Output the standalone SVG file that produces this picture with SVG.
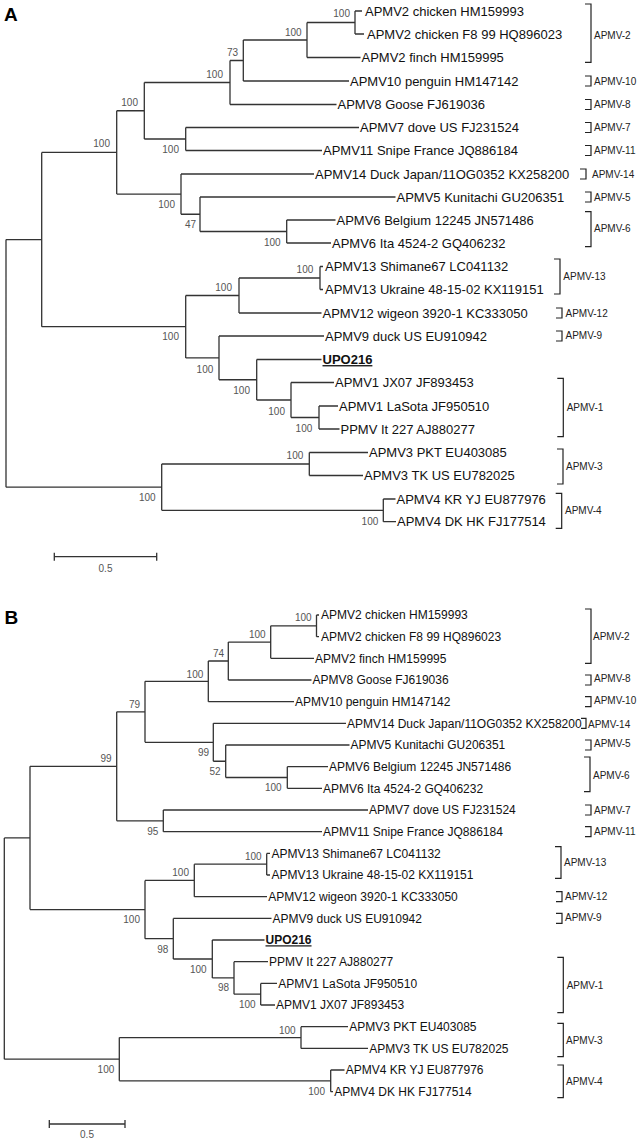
<svg xmlns="http://www.w3.org/2000/svg" width="639" height="1144" viewBox="0 0 639 1144">
<style>
.br{stroke:#333;stroke-width:1.3;fill:none}
.lf{font-family:"Liberation Sans",Arial,sans-serif;fill:#111}
.la{font-size:13px}
.lb{font-size:12px}
.up{font-weight:bold;text-decoration:underline}
.bs{font-family:"Liberation Sans",Arial,sans-serif;font-size:10px;fill:#555;text-anchor:end}
.st{font-family:"Liberation Sans",Arial,sans-serif;font-size:10px;fill:#222}
.bk{stroke:#222;stroke-width:1.2;fill:none}
.pl{font-family:"Liberation Sans",Arial,sans-serif;font-size:19px;font-weight:bold;fill:#000}
.sc{font-family:"Liberation Sans",Arial,sans-serif;font-size:10px;fill:#555;text-anchor:middle}
</style>
<rect width="639" height="1144" fill="#fff"/>
<text class="pl" x="4" y="20.5">A</text>
<text class="pl" x="4.5" y="624">B</text>

<g id="connectors">
<!-- Tree A -->
<path class="br" d="M6 239.55V487.2M6 239.55H41.7M6 487.2H161.7
M41.7 152.4V326.7M41.7 152.4H116.7M41.7 326.7H185.7
M116.7 110.75V194.1M116.7 110.75H144.3M116.7 194.1H181
M144.3 82.5V139M144.3 82.5H230M144.3 139H185.7
M230 60.5V104.5M230 60.5H243.3M230 104.5H336.5
M243.3 40V81M243.3 40H307M243.3 81H349
M307 22.5V57.5M307 22.5H355M307 57.5H360.5
M355 11V34M355 11H362M355 34H364
M185.7 127.5V150.5M185.7 127.5H359M185.7 150.5H322
M181 174V214.25M181 174H314M181 214.25H200
M200 197V231.5M200 197H395.5M200 231.5H286.7
M286.7 220V243M286.7 220H335.5M286.7 243H331
M185.7 295.5V357.9M185.7 295.5H239M185.7 357.9H219
M239 278V313M239 278H320M239 313H321.5
M320 266.5V289.5M320 266.5H323M320 289.5H323
M219 336V379.75M219 336H324M219 379.75H256.7
M256.7 359.5V400M256.7 359.5H321.5M256.7 400H291
M291 382.5V417.5M291 382.5H334M291 417.5H319
M319 406V429M319 406H338M319 429H339.5
M161.7 464V510.35M161.7 464H309.3M161.7 510.35H383.3
M309.3 452.5V475.5M309.3 452.5H368M309.3 475.5H363
M383.3 499V521.7M383.3 499H395.5M383.3 521.7H396"/>
<!-- Tree B -->
<path class="br" d="M4.3 837.95V1059.2M4.3 837.95H30M4.3 1059.2H119.3
M30 766.3V909.6M30 766.3H116.7M30 909.6H145
M116.7 711.8V820.85M116.7 711.8H145M116.7 820.85H163.3
M145 681.35V742.3M145 681.35H208.3M145 742.3H213.3
M208.3 661V701.7M208.3 661H228.3M208.3 701.7H294
M228.3 642.1V680M228.3 642.1H270.7M228.3 680H311.5
M270.7 625.85V658.3M270.7 625.85H316.5M270.7 658.3H314
M316.5 615V636.7M316.5 615H319M316.5 636.7H319
M213.3 723.3V761.25M213.3 723.3H346M213.3 761.25H225.7
M225.7 745V777.5M225.7 745H349.5M225.7 777.5H287.3
M287.3 766.7V788.3M287.3 766.7H328M287.3 788.3H322
M163.3 810V831.7M163.3 810H368M163.3 831.7H322
M145 880.45V938.7M145 880.45H194.3M145 938.7H173.3
M194.3 864.2V896.7M194.3 864.2H266.7M194.3 896.7H267
M266.7 853.4V875M266.7 853.4H270M266.7 875H270
M173.3 918.4V959M173.3 918.4H271.5M173.3 959H212.3
M212.3 940V977.95M212.3 940H264.5M212.3 977.95H234
M234 961.7V994.2M234 961.7H268M234 994.2H260.7
M260.7 983.4V1005M260.7 983.4H277M260.7 1005H275
M119.3 1037.55V1080.85M119.3 1037.55H301M119.3 1080.85H330.7
M301 1026.7V1048.4M301 1026.7H348M301 1048.4H368
M330.7 1070V1091.7M330.7 1070H344.5M330.7 1091.7H333"/>
</g>

<!-- Tree A bootstrap values -->
<g id="a-support" class="bs">
<text x="350" y="16.5">100</text>
<text x="301.7" y="35.8">100</text>
<text x="238" y="55.8">73</text>
<text x="223" y="77.5">100</text>
<text x="138" y="105.5">100</text>
<text x="110" y="146.8">100</text>
<text x="179" y="153.2">100</text>
<text x="175" y="207.8">100</text>
<text x="196" y="227.8">47</text>
<text x="280.7" y="245.8">100</text>
<text x="313.3" y="272.8">100</text>
<text x="232" y="290.8">100</text>
<text x="179" y="340.2">100</text>
<text x="213.3" y="372.5">100</text>
<text x="250" y="394.2">100</text>
<text x="285" y="414.5">100</text>
<text x="312.3" y="431.8">100</text>
<text x="303.3" y="459.2">100</text>
<text x="155.7" y="501.2">100</text>
<text x="378.3" y="525.2">100</text>
</g>

<!-- Tree A leaves -->
<g id="a-leaves" class="lf la">
<g id="a-l1"><text x="365" y="15.6">APMV2 chicken HM159993</text></g>
<g id="a-l2"><text x="367" y="38.6">APMV2 chicken F8 99 HQ896023</text></g>
<g id="a-l3"><text x="361.5" y="62.1">APMV2 finch HM159995</text></g>
<g id="a-l4"><text x="350" y="85.6">APMV10 penguin HM147142</text></g>
<g id="a-l5"><text x="337.5" y="109.1">APMV8 Goose FJ619036</text></g>
<g id="a-l6"><text x="360" y="132.1">APMV7 dove US FJ231524</text></g>
<g id="a-l7"><text x="323" y="155.1">APMV11 Snipe France JQ886184</text></g>
<g id="a-l8"><text x="315" y="178.6">APMV14 Duck Japan/11OG0352 KX258200</text></g>
<g id="a-l9"><text x="396.5" y="201.6">APMV5 Kunitachi GU206351</text></g>
<g id="a-l10"><text x="336.5" y="224.6">APMV6 Belgium 12245 JN571486</text></g>
<g id="a-l11"><text x="332" y="247.6">APMV6 Ita 4524-2 GQ406232</text></g>
<g id="a-l12"><text x="325" y="271.1">APMV13 Shimane67 LC041132</text></g>
<g id="a-l13"><text x="325" y="294.1">APMV13 Ukraine 48-15-02 KX119151</text></g>
<g id="a-l14"><text x="322.5" y="317.6">APMV12 wigeon 3920-1 KC333050</text></g>
<g id="a-l15"><text x="325" y="340.6">APMV9 duck US EU910942</text></g>
<g id="a-l16"><text class="up" x="322.5" y="364.1">UPO216</text></g>
<g id="a-l17"><text x="335" y="387.1">APMV1 JX07 JF893453</text></g>
<g id="a-l18"><text x="339" y="410.6">APMV1 LaSota JF950510</text></g>
<g id="a-l19"><text x="340.5" y="433.6">PPMV It 227 AJ880277</text></g>
<g id="a-l20"><text x="369" y="457.1">APMV3 PKT EU403085</text></g>
<g id="a-l21"><text x="364" y="480.1">APMV3 TK US EU782025</text></g>
<g id="a-l22"><text x="396.5" y="503.6">APMV4 KR YJ EU877976</text></g>
<g id="a-l23"><text x="397" y="526.3">APMV4 DK HK FJ177514</text></g>
</g>

<!-- Tree A subtype brackets -->
<g id="a-groups">
<path class="bk" d="M585 4H591V62.3H585
M585 76H591V86H585
M585 99.5H591V109.5H585
M585 122.5H591V132.5H585
M585 145.5H591V155.5H585
M580 169H586V179H580
M585 192H591V202H585
M585 211.7H591V246.7H585
M554 259H560V294H554
M556 308H562V318H556
M556 331H562V341H556
M557.3 378.3H563.3V436.7H557.3
M557 449H563V484H557
M555.7 493.3H561.7V528.3H555.7"/>
<text class="st" x="594" y="38.6">APMV-2</text>
<text class="st" x="594" y="84.6">APMV-10</text>
<text class="st" x="594" y="108.1">APMV-8</text>
<text class="st" x="594" y="131.1">APMV-7</text>
<text class="st" x="594" y="154.1">APMV-11</text>
<text class="st" x="592" y="177.6">APMV-14</text>
<text class="st" x="594" y="200.6">APMV-5</text>
<text class="st" x="594" y="231.9">APMV-6</text>
<text class="st" x="563.3" y="280.3">APMV-13</text>
<text class="st" x="565.5" y="316.6">APMV-12</text>
<text class="st" x="565.5" y="338.6">APMV-9</text>
<text class="st" x="566.7" y="410.9">APMV-1</text>
<text class="st" x="566" y="470.3">APMV-3</text>
<text class="st" x="565" y="513.6">APMV-4</text>
</g>

<!-- Tree A scale bar -->
<g id="a-scale">
<path class="br" d="M54.3 556.7H156.7M54.3 552.7V560.7M156.7 552.7V560.7"/>
<text class="sc" x="105.5" y="571.7">0.5</text>
</g>

<!-- Tree B bootstrap values -->
<g id="b-support" class="bs">
<text x="311.7" y="620.8">100</text>
<text x="265.7" y="637.5">100</text>
<text x="224" y="656.8">74</text>
<text x="203.3" y="677.5">100</text>
<text x="140" y="707.5">79</text>
<text x="111.7" y="761.8">99</text>
<text x="209" y="755.8">99</text>
<text x="220.7" y="775.2">52</text>
<text x="281.7" y="790.8">100</text>
<text x="158.3" y="834.5">95</text>
<text x="261.7" y="859.8">100</text>
<text x="189" y="875.8">100</text>
<text x="140" y="922.8">100</text>
<text x="168.3" y="952.5">98</text>
<text x="206.7" y="972.5">100</text>
<text x="229" y="991.2">98</text>
<text x="255.7" y="1007.5">100</text>
<text x="295.7" y="1033.5">100</text>
<text x="114.3" y="1072.5">100</text>
<text x="325" y="1094.5">100</text>
</g>

<!-- Tree B leaves -->
<g id="b-leaves" class="lf lb">
<g id="b-l1"><text x="321" y="619.3">APMV2 chicken HM159993</text></g>
<g id="b-l2"><text x="321" y="641">APMV2 chicken F8 99 HQ896023</text></g>
<g id="b-l3"><text x="315" y="662.6">APMV2 finch HM159995</text></g>
<g id="b-l4"><text x="312.5" y="684.3">APMV8 Goose FJ619036</text></g>
<g id="b-l5"><text x="295" y="706">APMV10 penguin HM147142</text></g>
<g id="b-l6"><text x="347" y="727.6">APMV14 Duck Japan/11OG0352 KX258200</text></g>
<g id="b-l7"><text x="350.5" y="749.3">APMV5 Kunitachi GU206351</text></g>
<g id="b-l8"><text x="329" y="771">APMV6 Belgium 12245 JN571486</text></g>
<g id="b-l9"><text x="323" y="792.6">APMV6 Ita 4524-2 GQ406232</text></g>
<g id="b-l10"><text x="369" y="814.3">APMV7 dove US FJ231524</text></g>
<g id="b-l11"><text x="323" y="836">APMV11 Snipe France JQ886184</text></g>
<g id="b-l12"><text x="271.5" y="857.7">APMV13 Shimane67 LC041132</text></g>
<g id="b-l13"><text x="271.5" y="879.3">APMV13 Ukraine 48-15-02 KX119151</text></g>
<g id="b-l14"><text x="268.3" y="901">APMV12 wigeon 3920-1 KC333050</text></g>
<g id="b-l15"><text x="272.5" y="922.7">APMV9 duck US EU910942</text></g>
<g id="b-l16"><text class="up" x="265.5" y="944.3">UPO216</text></g>
<g id="b-l17"><text x="269" y="966">PPMV It 227 AJ880277</text></g>
<g id="b-l18"><text x="278.3" y="987.7">APMV1 LaSota JF950510</text></g>
<g id="b-l19"><text x="276" y="1009.3">APMV1 JX07 JF893453</text></g>
<g id="b-l20"><text x="349.3" y="1031">APMV3 PKT EU403085</text></g>
<g id="b-l21"><text x="369.3" y="1052.7">APMV3 TK US EU782025</text></g>
<g id="b-l22"><text x="345.7" y="1074.3">APMV4 KR YJ EU877976</text></g>
<g id="b-l23"><text x="334.3" y="1096">APMV4 DK HK FJ177514</text></g>
</g>

<!-- Tree B subtype brackets -->
<g id="b-groups">
<path class="bk" d="M585 609H591V663.3H585
M585 675H591V685H585
M585 696.7H591V706.7H585
M581 718.3H586V728.3H581
M585 740H591V750H585
M584 757H590V791.7H584
M585 805H591V815H585
M585 826.7H591V836.7H585
M555 846.7H561V878.3H555
M556 891.7H562V901.7H556
M556 913.4H562V923.4H556
M557.3 957.3H563.3V1012.7H557.3
M557.3 1023.3H563.3V1056.7H557.3
M557.3 1065H563.3V1097.7H557.3"/>
<text class="st" x="593" y="640.3">APMV-2</text>
<text class="st" x="594" y="681.9">APMV-8</text>
<text class="st" x="594" y="703.6">APMV-10</text>
<text class="st" x="588" y="727.6">APMV-14</text>
<text class="st" x="594" y="746.9">APMV-5</text>
<text class="st" x="593" y="778.6">APMV-6</text>
<text class="st" x="594" y="813.6">APMV-7</text>
<text class="st" x="594" y="835.3">APMV-11</text>
<text class="st" x="564" y="866.3">APMV-13</text>
<text class="st" x="565" y="900.3">APMV-12</text>
<text class="st" x="565" y="921.3">APMV-9</text>
<text class="st" x="566.7" y="988.6">APMV-1</text>
<text class="st" x="566" y="1043.6">APMV-3</text>
<text class="st" x="566" y="1084.6">APMV-4</text>
</g>

<!-- Tree B scale bar -->
<g id="b-scale">
<path class="br" d="M49.3 1124H125M49.3 1120V1128M125 1120V1128"/>
<text class="sc" x="87" y="1137.7">0.5</text>
</g>
</svg>
